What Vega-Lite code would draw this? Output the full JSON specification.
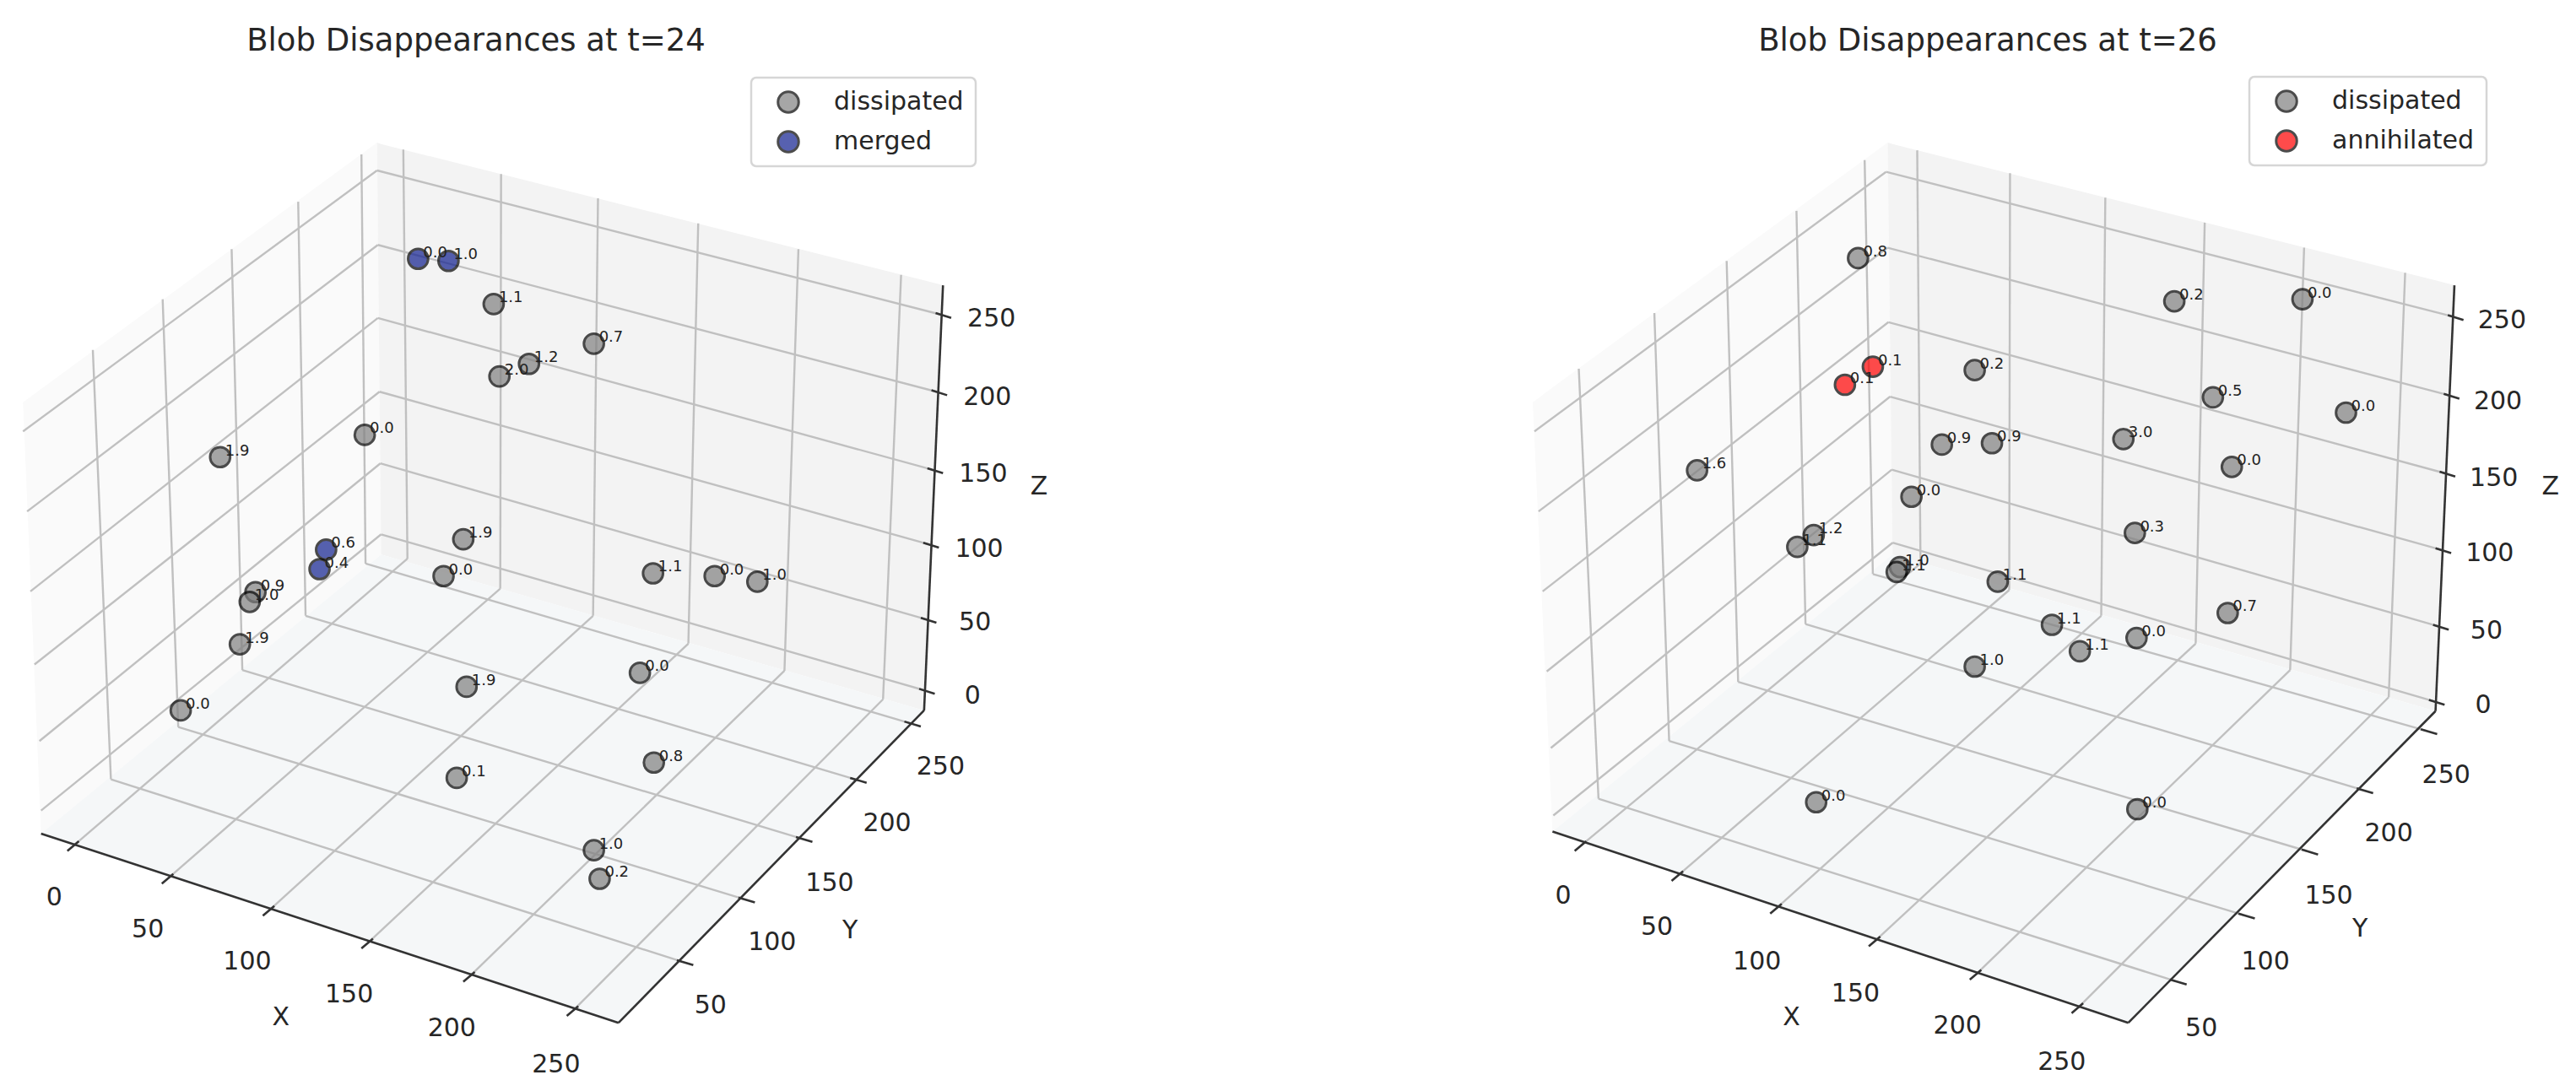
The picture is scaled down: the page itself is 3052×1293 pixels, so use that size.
{"$schema":"https://vega.github.io/schema/vega-lite/v6.json","padding":0,"spacing":0,"background":"white","config":{"view":{"stroke":null},"font":"DejaVu Sans","legend":{"title":null,"labelFont":"DejaVu Sans","labelFontSize":30,"labelColor":"#262626","labelOffset":39,"labelLimit":400,"symbolType":"circle","symbolSize":600,"symbolStrokeColor":"black","symbolStrokeWidth":3,"symbolOpacity":0.7,"rowPadding":17,"clipHeight":30,"padding":14,"symbolOffset":15,"fillColor":"white","strokeColor":"#d6d6d6","strokeWidth":2.5,"cornerRadius":6,"orient":"none"},"title":{"font":"DejaVu Sans","fontSize":37,"fontWeight":"normal","color":"#262626"}},
"datasets":{
"panes":[
{"panel":"L","pane":"left","u":28,"v":578,"v2":578},{"panel":"L","pane":"left","u":50,"v":559,"v2":1198},{"panel":"L","pane":"left","u":459,"v":205,"v2":802},{"panel":"L","pane":"left","u":464,"v":797,"v2":797},
{"panel":"L","pane":"right","u":459,"v":205,"v2":205},{"panel":"L","pane":"right","u":464,"v":207,"v2":797},{"panel":"L","pane":"right","u":1125,"v":403,"v2":1021},{"panel":"L","pane":"right","u":1148,"v":410,"v2":410},
{"panel":"L","pane":"floor","u":50,"v":1198,"v2":1198},{"panel":"L","pane":"floor","u":464,"v":797,"v2":1358},{"panel":"L","pane":"floor","u":753,"v":895,"v2":1470},{"panel":"L","pane":"floor","u":1125,"v":1021,"v2":1021},
{"panel":"R","pane":"left","u":298,"v":578,"v2":578},{"panel":"R","pane":"left","u":322,"v":557,"v2":1195},{"panel":"R","pane":"left","u":730,"v":205,"v2":803},{"panel":"R","pane":"left","u":736,"v":797,"v2":797},
{"panel":"R","pane":"right","u":730,"v":205,"v2":205},{"panel":"R","pane":"right","u":736,"v":207,"v2":797},{"panel":"R","pane":"right","u":1397,"v":403,"v2":1022},{"panel":"R","pane":"right","u":1420,"v":410,"v2":410},
{"panel":"R","pane":"floor","u":322,"v":1195,"v2":1195},{"panel":"R","pane":"floor","u":736,"v":797,"v2":1357},{"panel":"R","pane":"floor","u":1023,"v":895,"v2":1470},{"panel":"R","pane":"floor","u":1397,"v":1022,"v2":1022}
],
"segments":[
{"panel":"L","kind":"grid","u":90,"v":1215,"u2":496,"v2":803},{"panel":"L","kind":"grid","u":205,"v":1262,"u2":609,"v2":846},{"panel":"L","kind":"grid","u":328,"v":1308,"u2":722,"v2":885},{"panel":"L","kind":"grid","u":448,"v":1355,"u2":838,"v2":925},{"panel":"L","kind":"grid","u":572,"v":1403,"u2":955,"v2":964},{"panel":"L","kind":"grid","u":698,"v":1452,"u2":1075,"v2":1005},
{"panel":"L","kind":"grid","u":496,"v":803,"u2":491,"v2":215},{"panel":"L","kind":"grid","u":609,"v":846,"u2":610,"v2":250},{"panel":"L","kind":"grid","u":722,"v":885,"u2":728,"v2":285},{"panel":"L","kind":"grid","u":838,"v":925,"u2":850,"v2":321},{"panel":"L","kind":"grid","u":955,"v":964,"u2":972,"v2":358},{"panel":"L","kind":"grid","u":1075,"v":1005,"u2":1097,"v2":395},
{"panel":"L","kind":"grid","u":135,"v":1120,"u2":830,"v2":1382},{"panel":"L","kind":"grid","u":217,"v":1045,"u2":905,"v2":1292},{"panel":"L","kind":"grid","u":295,"v":963,"u2":975,"v2":1205},{"panel":"L","kind":"grid","u":372,"v":885,"u2":1041,"v2":1120},{"panel":"L","kind":"grid","u":445,"v":810,"u2":1107,"v2":1039},
{"panel":"L","kind":"grid","u":135,"v":1120,"u2":113,"v2":503},{"panel":"L","kind":"grid","u":217,"v":1045,"u2":198,"v2":430},{"panel":"L","kind":"grid","u":295,"v":963,"u2":282,"v2":358},{"panel":"L","kind":"grid","u":372,"v":885,"u2":363,"v2":290},{"panel":"L","kind":"grid","u":445,"v":810,"u2":440,"v2":222},
{"panel":"L","kind":"grid","u":464,"v":768,"u2":50,"v2":1165},{"panel":"L","kind":"grid","u":463,"v":666,"u2":48,"v2":1065},{"panel":"L","kind":"grid","u":462,"v":563,"u2":42,"v2":955},{"panel":"L","kind":"grid","u":460,"v":457,"u2":37,"v2":850},{"panel":"L","kind":"grid","u":460,"v":352,"u2":33,"v2":735},{"panel":"L","kind":"grid","u":459,"v":245,"u2":28,"v2":620},
{"panel":"L","kind":"grid","u":464,"v":768,"u2":1125,"v2":992},{"panel":"L","kind":"grid","u":463,"v":666,"u2":1127,"v2":890},{"panel":"L","kind":"grid","u":462,"v":563,"u2":1130,"v2":782},{"panel":"L","kind":"grid","u":460,"v":457,"u2":1135,"v2":675},{"panel":"L","kind":"grid","u":460,"v":352,"u2":1140,"v2":563},{"panel":"L","kind":"grid","u":459,"v":245,"u2":1145,"v2":452},
{"panel":"L","kind":"axis","u":50,"v":1198,"u2":753,"v2":1470},{"panel":"L","kind":"axis","u":753,"v":1470,"u2":1125,"v2":1021},{"panel":"L","kind":"axis","u":1125,"v":1021,"u2":1148,"v2":410},
{"panel":"L","kind":"axis","u":96,"v":1209,"u2":82,"v2":1223},{"panel":"L","kind":"axis","u":211,"v":1256,"u2":197,"v2":1270},{"panel":"L","kind":"axis","u":334,"v":1302,"u2":320,"v2":1316},{"panel":"L","kind":"axis","u":454,"v":1349,"u2":440,"v2":1363},{"panel":"L","kind":"axis","u":578,"v":1397,"u2":564,"v2":1411},{"panel":"L","kind":"axis","u":704,"v":1446,"u2":690,"v2":1460},
{"panel":"L","kind":"axis","u":824,"v":1380,"u2":844,"v2":1387},{"panel":"L","kind":"axis","u":899,"v":1290,"u2":919,"v2":1297},{"panel":"L","kind":"axis","u":969,"v":1203,"u2":989,"v2":1210},{"panel":"L","kind":"axis","u":1035,"v":1118,"u2":1055,"v2":1125},{"panel":"L","kind":"axis","u":1101,"v":1037,"u2":1121,"v2":1044},
{"panel":"L","kind":"axis","u":1119,"v":990,"u2":1138,"v2":997},{"panel":"L","kind":"axis","u":1121,"v":888,"u2":1140,"v2":895},{"panel":"L","kind":"axis","u":1124,"v":780,"u2":1143,"v2":787},{"panel":"L","kind":"axis","u":1129,"v":673,"u2":1148,"v2":680},{"panel":"L","kind":"axis","u":1134,"v":561,"u2":1153,"v2":568},{"panel":"L","kind":"axis","u":1139,"v":450,"u2":1158,"v2":457},
{"panel":"R","kind":"grid","u":357,"v":1215,"u2":770,"v2":810},{"panel":"R","kind":"grid","u":475,"v":1258,"u2":878,"v2":848},{"panel":"R","kind":"grid","u":595,"v":1305,"u2":990,"v2":885},{"panel":"R","kind":"grid","u":715,"v":1352,"u2":1105,"v2":925},{"panel":"R","kind":"grid","u":838,"v":1400,"u2":1220,"v2":963},{"panel":"R","kind":"grid","u":962,"v":1448,"u2":1340,"v2":1002},
{"panel":"R","kind":"grid","u":770,"v":810,"u2":766,"v2":216},{"panel":"R","kind":"grid","u":878,"v":848,"u2":879,"v2":249},{"panel":"R","kind":"grid","u":990,"v":885,"u2":995,"v2":284},{"panel":"R","kind":"grid","u":1105,"v":925,"u2":1116,"v2":320},{"panel":"R","kind":"grid","u":1220,"v":963,"u2":1237,"v2":356},{"panel":"R","kind":"grid","u":1340,"v":1002,"u2":1360,"v2":392},
{"panel":"R","kind":"grid","u":378,"v":1148,"u2":1080,"v2":1410},{"panel":"R","kind":"grid","u":464,"v":1065,"u2":1163,"v2":1315},{"panel":"R","kind":"grid","u":548,"v":980,"u2":1240,"v2":1223},{"panel":"R","kind":"grid","u":630,"v":897,"u2":1307,"v2":1135},{"panel":"R","kind":"grid","u":712,"v":825,"u2":1385,"v2":1050},
{"panel":"R","kind":"grid","u":378,"v":1148,"u2":354,"v2":530},{"panel":"R","kind":"grid","u":464,"v":1065,"u2":446,"v2":450},{"panel":"R","kind":"grid","u":548,"v":980,"u2":534,"v2":375},{"panel":"R","kind":"grid","u":630,"v":897,"u2":619,"v2":303},{"panel":"R","kind":"grid","u":712,"v":825,"u2":702,"v2":230},
{"panel":"R","kind":"grid","u":736,"v":780,"u2":323,"v2":1172},{"panel":"R","kind":"grid","u":735,"v":675,"u2":320,"v2":1075},{"panel":"R","kind":"grid","u":733,"v":570,"u2":315,"v2":965},{"panel":"R","kind":"grid","u":731,"v":463,"u2":310,"v2":850},{"panel":"R","kind":"grid","u":730,"v":356,"u2":305,"v2":735},{"panel":"R","kind":"grid","u":728,"v":247,"u2":300,"v2":620},
{"panel":"R","kind":"grid","u":736,"v":780,"u2":1395,"v2":1008},{"panel":"R","kind":"grid","u":735,"v":675,"u2":1400,"v2":900},{"panel":"R","kind":"grid","u":733,"v":570,"u2":1403,"v2":790},{"panel":"R","kind":"grid","u":731,"v":463,"u2":1408,"v2":680},{"panel":"R","kind":"grid","u":730,"v":356,"u2":1413,"v2":568},{"panel":"R","kind":"grid","u":728,"v":247,"u2":1418,"v2":455},
{"panel":"R","kind":"axis","u":322,"v":1195,"u2":1023,"v2":1470},{"panel":"R","kind":"axis","u":1023,"v":1470,"u2":1397,"v2":1022},{"panel":"R","kind":"axis","u":1397,"v":1022,"u2":1420,"v2":410},
{"panel":"R","kind":"axis","u":363,"v":1209,"u2":349,"v2":1223},{"panel":"R","kind":"axis","u":481,"v":1252,"u2":467,"v2":1266},{"panel":"R","kind":"axis","u":601,"v":1299,"u2":587,"v2":1313},{"panel":"R","kind":"axis","u":721,"v":1346,"u2":707,"v2":1360},{"panel":"R","kind":"axis","u":844,"v":1394,"u2":830,"v2":1408},{"panel":"R","kind":"axis","u":968,"v":1442,"u2":954,"v2":1456},
{"panel":"R","kind":"axis","u":1074,"v":1408,"u2":1094,"v2":1415},{"panel":"R","kind":"axis","u":1157,"v":1313,"u2":1177,"v2":1320},{"panel":"R","kind":"axis","u":1234,"v":1221,"u2":1254,"v2":1228},{"panel":"R","kind":"axis","u":1301,"v":1133,"u2":1321,"v2":1140},{"panel":"R","kind":"axis","u":1379,"v":1048,"u2":1399,"v2":1055},
{"panel":"R","kind":"axis","u":1389,"v":1006,"u2":1408,"v2":1013},{"panel":"R","kind":"axis","u":1394,"v":898,"u2":1413,"v2":905},{"panel":"R","kind":"axis","u":1397,"v":788,"u2":1416,"v2":795},{"panel":"R","kind":"axis","u":1402,"v":678,"u2":1421,"v2":685},{"panel":"R","kind":"axis","u":1407,"v":566,"u2":1426,"v2":573},{"panel":"R","kind":"axis","u":1412,"v":453,"u2":1431,"v2":460}
],
"labels":[
{"panel":"L","text":"0","u":66,"v":1290},{"panel":"L","text":"50","u":180,"v":1336},{"panel":"L","text":"100","u":301,"v":1382},{"panel":"L","text":"150","u":425,"v":1430},{"panel":"L","text":"200","u":550,"v":1478},{"panel":"L","text":"250","u":677,"v":1530},
{"panel":"L","text":"50","u":865,"v":1445},{"panel":"L","text":"100","u":940,"v":1355},{"panel":"L","text":"150","u":1010,"v":1270},{"panel":"L","text":"200","u":1080,"v":1183},{"panel":"L","text":"250","u":1145,"v":1102},
{"panel":"L","text":"0","u":1184,"v":1000},{"panel":"L","text":"50","u":1187,"v":895},{"panel":"L","text":"100","u":1192,"v":789},{"panel":"L","text":"150","u":1197,"v":682},{"panel":"L","text":"200","u":1202,"v":571},{"panel":"L","text":"250","u":1207,"v":459},
{"panel":"L","text":"X","u":342,"v":1462},{"panel":"L","text":"Y","u":1035,"v":1337},{"panel":"L","text":"Z","u":1265,"v":700},
{"panel":"R","text":"0","u":335,"v":1288},{"panel":"R","text":"50","u":449,"v":1333},{"panel":"R","text":"100","u":571,"v":1382},{"panel":"R","text":"150","u":691,"v":1428},{"panel":"R","text":"200","u":815,"v":1475},{"panel":"R","text":"250","u":942,"v":1527},
{"panel":"R","text":"50","u":1112,"v":1478},{"panel":"R","text":"100","u":1190,"v":1382},{"panel":"R","text":"150","u":1267,"v":1288},{"panel":"R","text":"200","u":1340,"v":1198},{"panel":"R","text":"250","u":1410,"v":1114},
{"panel":"R","text":"0","u":1455,"v":1014},{"panel":"R","text":"50","u":1459,"v":907},{"panel":"R","text":"100","u":1463,"v":796},{"panel":"R","text":"150","u":1468,"v":687},{"panel":"R","text":"200","u":1473,"v":577},{"panel":"R","text":"250","u":1478,"v":461},
{"panel":"R","text":"X","u":613,"v":1462},{"panel":"R","text":"Y","u":1305,"v":1335},{"panel":"R","text":"Z","u":1537,"v":700}
],
"blobs":[
{"panel":"L","type":"dissipated","u":601,"v":437,"strength":"1.1"},{"panel":"L","type":"dissipated","u":723,"v":494,"strength":"0.7"},{"panel":"L","type":"dissipated","u":644,"v":523,"strength":"1.2"},{"panel":"L","type":"dissipated","u":608,"v":541,"strength":"2.0"},{"panel":"L","type":"dissipated","u":444,"v":625,"strength":"0.0"},{"panel":"L","type":"dissipated","u":268,"v":657,"strength":"1.9"},{"panel":"L","type":"dissipated","u":564,"v":775,"strength":"1.9"},{"panel":"L","type":"dissipated","u":540,"v":828,"strength":"0.0"},{"panel":"L","type":"dissipated","u":795,"v":824,"strength":"1.1"},{"panel":"L","type":"dissipated","u":870,"v":828,"strength":"0.0"},{"panel":"L","type":"dissipated","u":922,"v":836,"strength":"1.0"},{"panel":"L","type":"dissipated","u":311,"v":851,"strength":"0.9"},{"panel":"L","type":"dissipated","u":304,"v":865,"strength":"1.0"},{"panel":"L","type":"dissipated","u":292,"v":926,"strength":"1.9"},{"panel":"L","type":"dissipated","u":568,"v":987,"strength":"1.9"},{"panel":"L","type":"dissipated","u":779,"v":967,"strength":"0.0"},{"panel":"L","type":"dissipated","u":220,"v":1021,"strength":"0.0"},{"panel":"L","type":"dissipated","u":796,"v":1096,"strength":"0.8"},{"panel":"L","type":"dissipated","u":556,"v":1118,"strength":"0.1"},{"panel":"L","type":"dissipated","u":723,"v":1222,"strength":"1.0"},{"panel":"L","type":"dissipated","u":730,"v":1263,"strength":"0.2"},
{"panel":"L","type":"merged","u":509,"v":372,"strength":"0.0"},{"panel":"L","type":"merged","u":546,"v":375,"strength":"1.0"},{"panel":"L","type":"merged","u":397,"v":790,"strength":"0.6"},{"panel":"L","type":"merged","u":389,"v":818,"strength":"0.4"},
{"panel":"R","type":"dissipated","u":694,"v":371,"strength":"0.8"},{"panel":"R","type":"dissipated","u":1079,"v":433,"strength":"0.2"},{"panel":"R","type":"dissipated","u":1235,"v":430,"strength":"0.0"},{"panel":"R","type":"dissipated","u":836,"v":532,"strength":"0.2"},{"panel":"R","type":"dissipated","u":1126,"v":571,"strength":"0.5"},{"panel":"R","type":"dissipated","u":1288,"v":593,"strength":"0.0"},{"panel":"R","type":"dissipated","u":796,"v":639,"strength":"0.9"},{"panel":"R","type":"dissipated","u":857,"v":637,"strength":"0.9"},{"panel":"R","type":"dissipated","u":1017,"v":631,"strength":"3.0"},{"panel":"R","type":"dissipated","u":1149,"v":671,"strength":"0.0"},{"panel":"R","type":"dissipated","u":498,"v":676,"strength":"1.6"},{"panel":"R","type":"dissipated","u":759,"v":714,"strength":"0.0"},{"panel":"R","type":"dissipated","u":640,"v":769,"strength":"1.2"},{"panel":"R","type":"dissipated","u":620,"v":786,"strength":"1.1"},{"panel":"R","type":"dissipated","u":1031,"v":766,"strength":"0.3"},{"panel":"R","type":"dissipated","u":745,"v":815,"strength":"1.0"},{"panel":"R","type":"dissipated","u":741,"v":822,"strength":"1.1"},{"panel":"R","type":"dissipated","u":864,"v":836,"strength":"1.1"},{"panel":"R","type":"dissipated","u":930,"v":898,"strength":"1.1"},{"panel":"R","type":"dissipated","u":1144,"v":881,"strength":"0.7"},{"panel":"R","type":"dissipated","u":964,"v":936,"strength":"1.1"},{"panel":"R","type":"dissipated","u":1033,"v":917,"strength":"0.0"},{"panel":"R","type":"dissipated","u":836,"v":958,"strength":"1.0"},{"panel":"R","type":"dissipated","u":643,"v":1153,"strength":"0.0"},{"panel":"R","type":"dissipated","u":1034,"v":1163,"strength":"0.0"},
{"panel":"R","type":"annihilated","u":712,"v":527,"strength":"0.1"},{"panel":"R","type":"annihilated","u":678,"v":553,"strength":"0.1"}
]},
"hconcat":[
{"width":1526,"height":1293,"title":{"text":"Blob Disappearances at t=24","anchor":"middle","dx":-199,"offset":-68},
"encoding":{"x":{"field":"u","type":"quantitative","scale":{"domain":[0,1568]},"axis":null},"y":{"field":"v","type":"quantitative","scale":{"domain":[1568,0]},"axis":null}},
"layer":[
{"data":{"name":"panes"},"transform":[{"filter":"datum.panel == 'L'"}],"mark":{"type":"area","strokeWidth":0},"encoding":{"y2":{"field":"v2"},"fill":{"field":"pane","type":"nominal","legend":null,"scale":{"domain":["left","right","floor"],"range":["#fafafa","#f3f3f3","#f5f7f8"]}}}},
{"data":{"name":"segments"},"transform":[{"filter":"datum.panel == 'L' && datum.kind == 'grid'"}],"mark":{"type":"rule","color":"#c0c0c0","strokeWidth":2.4},"encoding":{"x2":{"field":"u2"},"y2":{"field":"v2"}}},
{"data":{"name":"segments"},"transform":[{"filter":"datum.panel == 'L' && datum.kind == 'axis'"}],"mark":{"type":"rule","color":"#333333","strokeWidth":2.6},"encoding":{"x2":{"field":"u2"},"y2":{"field":"v2"}}},
{"data":{"name":"labels"},"transform":[{"filter":"datum.panel == 'L'"}],"mark":{"type":"text","font":"DejaVu Sans","fontSize":30,"color":"#262626"},"encoding":{"text":{"field":"text"}}},
{"data":{"name":"blobs"},"transform":[{"filter":"datum.panel == 'L'"}],"mark":{"type":"point","filled":true,"shape":"circle","size":560,"opacity":0.7,"stroke":"black","strokeWidth":3},"encoding":{"color":{"field":"type","type":"nominal","scale":{"domain":["dissipated","merged"],"range":["#808080","#101f8f"]},"legend":{"orient":"none","legendX":890,"legendY":92}}}},
{"data":{"name":"blobs"},"transform":[{"filter":"datum.panel == 'L'"}],"mark":{"type":"text","font":"DejaVu Sans","fontSize":18,"align":"left","baseline":"middle","dx":6,"dy":-7,"color":"#222222"},"encoding":{"text":{"field":"strength"}}}
]},
{"width":1526,"height":1293,"title":{"text":"Blob Disappearances at t=26","anchor":"middle","dx":66,"offset":-68},
"encoding":{"x":{"field":"u","type":"quantitative","scale":{"domain":[0,1568]},"axis":null},"y":{"field":"v","type":"quantitative","scale":{"domain":[1568,0]},"axis":null}},
"layer":[
{"data":{"name":"panes"},"transform":[{"filter":"datum.panel == 'R'"}],"mark":{"type":"area","strokeWidth":0},"encoding":{"y2":{"field":"v2"},"fill":{"field":"pane","type":"nominal","legend":null,"scale":{"domain":["left","right","floor"],"range":["#fafafa","#f3f3f3","#f5f7f8"]}}}},
{"data":{"name":"segments"},"transform":[{"filter":"datum.panel == 'R' && datum.kind == 'grid'"}],"mark":{"type":"rule","color":"#c0c0c0","strokeWidth":2.4},"encoding":{"x2":{"field":"u2"},"y2":{"field":"v2"}}},
{"data":{"name":"segments"},"transform":[{"filter":"datum.panel == 'R' && datum.kind == 'axis'"}],"mark":{"type":"rule","color":"#333333","strokeWidth":2.6},"encoding":{"x2":{"field":"u2"},"y2":{"field":"v2"}}},
{"data":{"name":"labels"},"transform":[{"filter":"datum.panel == 'R'"}],"mark":{"type":"text","font":"DejaVu Sans","fontSize":30,"color":"#262626"},"encoding":{"text":{"field":"text"}}},
{"data":{"name":"blobs"},"transform":[{"filter":"datum.panel == 'R'"}],"mark":{"type":"point","filled":true,"shape":"circle","size":560,"opacity":0.7,"stroke":"black","strokeWidth":3},"encoding":{"color":{"field":"type","type":"nominal","scale":{"domain":["dissipated","annihilated"],"range":["#808080","#ff0000"]},"legend":{"orient":"none","legendX":1139,"legendY":91}}}},
{"data":{"name":"blobs"},"transform":[{"filter":"datum.panel == 'R'"}],"mark":{"type":"text","font":"DejaVu Sans","fontSize":18,"align":"left","baseline":"middle","dx":6,"dy":-7,"color":"#222222"},"encoding":{"text":{"field":"strength"}}}
]}
],
"resolve":{"scale":{"color":"independent","fill":"independent"}}}
